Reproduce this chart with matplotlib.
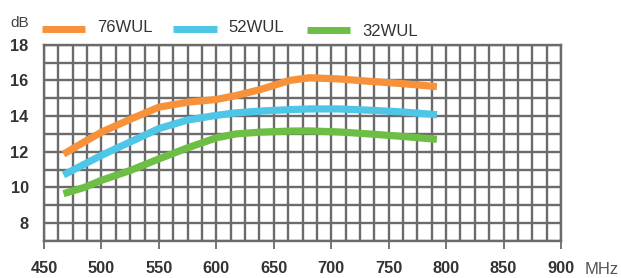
import matplotlib
matplotlib.use("Agg")
import matplotlib.pyplot as plt
from matplotlib.lines import Line2D
import numpy as np

freq = [467, 485, 500, 525, 550, 575, 600, 617, 638, 664, 681, 707, 733, 760, 792]
wul76 = [11.87, 12.55, 13.1, 13.82, 14.5, 14.78, 14.93, 15.15, 15.48, 16.0, 16.15, 16.08, 15.95, 15.83, 15.65]
wul52 = [10.7, 11.3, 11.8, 12.55, 13.3, 13.78, 14.04, 14.18, 14.28, 14.36, 14.4, 14.4, 14.33, 14.24, 14.08]
wul32 = [9.65, 10.0, 10.4, 10.95, 11.6, 12.22, 12.78, 13.0, 13.1, 13.16, 13.17, 13.11, 13.0, 12.87, 12.7]
series_names = ["76WUL", "52WUL", "32WUL"]
colors = ["#F7923A", "#4EC6E8", "#6CBE45"]
x_ticks = [450, 500, 550, 600, 650, 700, 750, 800, 850, 900]
y_ticks = [8, 10, 12, 14, 16, 18]

plt.rcParams['font.family'] = ['Liberation Sans', 'DejaVu Sans']

W, H = 621, 278
fig = plt.figure(figsize=(W / 100, H / 100), dpi=100)
ax = fig.add_axes([44 / W, 1 - 241 / H, (561 - 44) / W, (241 - 44.7) / H])

grid_col = "#6b6b6b"
ax.set_xlim(450, 900)
ax.set_ylim(7, 18)
ax.set_xticks(np.arange(450, 900.1, 12.5), minor=True)
ax.set_yticks(np.arange(7, 18.1, 1), minor=True)
ax.set_xticks(x_ticks)
ax.set_xticklabels([str(v) for v in x_ticks])
ax.set_yticks(y_ticks)
ax.set_yticklabels([str(v) for v in y_ticks])
ax.grid(True, which="both", color=grid_col, linewidth=1.7)
ax.set_axisbelow(True)
for s in ax.spines.values():
    s.set_color(grid_col)
    s.set_linewidth(1.7)
ax.tick_params(axis="x", which="major", length=6, width=1.3, color=grid_col, pad=8.5,
               labelsize=11.8, labelcolor="#333333")
ax.tick_params(axis="y", which="major", length=0, pad=11, labelsize=11.8, labelcolor="#333333")
ax.tick_params(which="minor", length=0)
for lbl in ax.get_xticklabels() + ax.get_yticklabels():
    lbl.set_fontweight("bold")

for vals, c in zip([wul76, wul52, wul32], colors):
    ax.plot(freq, vals, color=c, linewidth=5.2, solid_capstyle="butt", solid_joinstyle="round", zorder=3)

# legend
legend_keys = [(42, 85, 29.3), (173, 217, 29.3), (307, 350, 30.0)]
legend_text = [(97, 27.5), (228, 27.5), (362, 31.0)]
for (x0, x1, yk), (tx, ty), name, c in zip(legend_keys, legend_text, series_names, colors):
    fig.add_artist(Line2D([x0 / W, x1 / W], [1 - yk / H, 1 - yk / H], color=c, linewidth=5,
                          solid_capstyle="butt", transform=fig.transFigure))
    fig.text(tx / W, 1 - ty / H, name, fontsize=12, color="#333333", va="center", ha="left")

fig.text(10 / W, 1 - 22.7 / H, "dB", fontsize=11, color="#444444", va="center", ha="left")
fig.text(585 / W, 1 - 269.5 / H, "MHz", fontsize=12, color="#555555", va="center", ha="left")

fig.savefig("out.png", dpi=100)
